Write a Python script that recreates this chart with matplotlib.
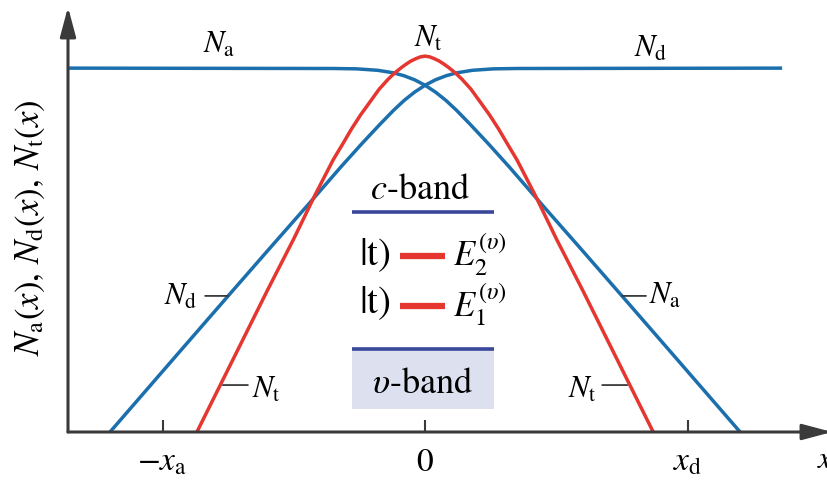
import matplotlib
matplotlib.use('Agg')
import matplotlib.pyplot as plt
from matplotlib.patches import Rectangle

plt.rcParams['mathtext.fontset'] = 'stix'
plt.rcParams['font.family'] = ['STIXGeneral', 'DejaVu Serif']

# ---- data (x in units of x_a = x_d, y in units of the plateau) ----
na_x = [-1.36, -0.35, -0.26, -0.18, -0.12, -0.08, -0.04, 0.00, 0.04, 0.08, 0.12,
        0.17, 0.24, 0.32, 0.45, 0.60, 0.75, 0.95, 1.20]
na_y = [1.000, 0.999, 0.998, 0.994, 0.987, 0.979, 0.968, 0.953, 0.934, 0.911, 0.884,
        0.847, 0.793, 0.729, 0.621, 0.498, 0.374, 0.208, 0.000]

nd_x = [-1.20, -0.95, -0.75, -0.60, -0.45, -0.32, -0.24, -0.17, -0.12, -0.08, -0.04,
        0.00, 0.04, 0.08, 0.12, 0.18, 0.26, 0.35, 1.36]
nd_y = [0.000, 0.208, 0.374, 0.498, 0.621, 0.729, 0.793, 0.847, 0.884, 0.911, 0.934,
        0.953, 0.968, 0.979, 0.987, 0.994, 0.998, 0.999, 1.000]

nt_x = [-0.869, -0.80, -0.70, -0.60, -0.50, -0.42, -0.35, -0.315, -0.28, -0.245, -0.21,
        -0.175, -0.14, -0.1225, -0.105, -0.0875, -0.07, -0.0525, -0.035, -0.0175, 0.0,
        0.0175, 0.035, 0.0525, 0.07, 0.0875, 0.105, 0.1225, 0.14, 0.175, 0.21, 0.245,
        0.28, 0.315, 0.35, 0.42, 0.50, 0.60, 0.70, 0.80, 0.869]
nt_y = [0.000, 0.100, 0.245, 0.390, 0.531, 0.650, 0.748, 0.790, 0.833, 0.872, 0.907,
        0.942, 0.970, 0.982, 0.993, 1.003, 1.012, 1.020, 1.026, 1.031, 1.033,
        1.031, 1.026, 1.020, 1.012, 1.003, 0.993, 0.982, 0.970, 0.942, 0.907, 0.872,
        0.833, 0.790, 0.748, 0.650, 0.531, 0.390, 0.245, 0.100, 0.000]

tick_pos = [-1, 0, 1]
tick_labels = [r'$-x_\mathrm{a}$', r'$0$', r'$x_\mathrm{d}$']

# band-diagram inset (data coordinates)
band_x = [-0.278, 0.263]
c_band_y = 0.604
v_band_y = 0.228
v_box_bottom = 0.063
level_x = [-0.095, 0.076]
level_y = [0.484, 0.346]          # E2, E1
level_labels = [r'$E_2^{(\upsilon)}$', r'$E_1^{(\upsilon)}$']

BLUE = '#1b6fad'
RED = '#e5362f'
NAVY = '#39489a'
AX = '#3a3a3a'
FS = 22
FS_R = 26

fig = plt.figure(figsize=(8.28, 4.81), dpi=100)
ax = fig.add_axes([68/828, 48/481, (832-68)/828, (433-8)/481])
ax.set_xlim(-1.36, 1.55)
ax.set_ylim(0, 1.168)
for s in ax.spines.values():
    s.set_visible(False)
ax.patch.set_alpha(0)

# axes with arrows
arrow = dict(arrowstyle='-|>,head_length=0.9,head_width=0.24', lw=2.2, color=AX,
             mutation_scale=20, shrinkA=0, shrinkB=0)
ax.annotate('', xy=(0, 1), xycoords='axes fraction', xytext=(0, 0),
            textcoords='axes fraction', arrowprops=arrow, annotation_clip=False)
ax.annotate('', xy=(1, 0), xycoords='axes fraction', xytext=(0, 0),
            textcoords='axes fraction', arrowprops=arrow, annotation_clip=False)

ax.set_xticks(tick_pos)
ax.set_xticklabels(tick_labels, fontsize=24)
ax.tick_params(axis='x', direction='in', length=9, width=1.5, color=AX, pad=11)
ax.set_yticks([])

# curves
ax.plot(na_x, na_y, color=BLUE, lw=2.5, solid_capstyle='butt', clip_on=False)
ax.plot(nd_x, nd_y, color=BLUE, lw=2.5, solid_capstyle='butt', clip_on=False)
ax.plot(nt_x, nt_y, color=RED, lw=2.5, solid_capstyle='butt', clip_on=False)

# curve labels at the top
ax.text(-0.785, 1.044, r'$N_\mathrm{a}$', ha='center', va='baseline', fontsize=FS)
ax.text(0.011, 1.060, r'$N_\mathrm{t}$', ha='center', va='baseline', fontsize=FS)
ax.text(0.861, 1.033, r'$N_\mathrm{d}$', ha='center', va='baseline', fontsize=FS)

# leader-line labels
def leader(xy, dx, txt, tdx, tdy, ha):
    ax.annotate('', xy=xy, xytext=(dx, 0), textcoords='offset pixels',
                arrowprops=dict(arrowstyle='-', lw=1.3, color=AX, shrinkA=0, shrinkB=0))
    ax.annotate(txt, xy=xy, xytext=(tdx, tdy), textcoords='offset pixels',
                ha=ha, va='baseline', fontsize=FS)

leader((nd_x[2], nd_y[2]), -23, r'$N_\mathrm{d}$', -31, -8, 'right')
leader((na_x[-3], na_y[-3]), 24, r'$N_\mathrm{a}$', 27, -7, 'left')
leader((nt_x[2] - 0.07, 0.129), 25, r'$N_\mathrm{t}$', 29, -12, 'left')
leader((-nt_x[2] + 0.07, 0.129), -25, r'$N_\mathrm{t}$', -30, -12, 'right')

# band diagram
ax.add_patch(Rectangle((band_x[0], v_box_bottom), band_x[1] - band_x[0],
                       v_band_y - v_box_bottom, facecolor='#dde0ef', edgecolor='none'))
ax.plot(band_x, [c_band_y, c_band_y], color=NAVY, lw=2.6, solid_capstyle='butt')
ax.plot(band_x, [v_band_y, v_band_y], color=NAVY, lw=2.6, solid_capstyle='butt')
ax.text(-0.019, 0.643, r'$c$-band', ha='center', va='baseline', fontsize=FS_R)
ax.text(-0.010, 0.110, r'$\upsilon$-band', ha='center', va='baseline', fontsize=FS_R)
for ly, lab, tb, eb in zip(level_y, level_labels, [0.462, 0.329], [0.457, 0.320]):
    ax.plot(level_x, [ly, ly], color=RED, lw=4.5, solid_capstyle='butt')
    ax.text(-0.130, tb, r'$|\mathrm{t})$', ha='right', va='baseline', fontsize=28)
    ax.text(0.105, eb, lab, ha='left', va='baseline', fontsize=25)

# axis labels
fig.text(30/828, 1 - 228/481, r'$N_\mathrm{a}(x),\,N_\mathrm{d}(x),\,N_\mathrm{t}(x)$',
         rotation=90, ha='center', va='center', fontsize=25)
fig.text(817/828, 1 - 468/481, r'$x$', ha='left', va='baseline', fontsize=FS)

fig.savefig('out.png', dpi=100)
